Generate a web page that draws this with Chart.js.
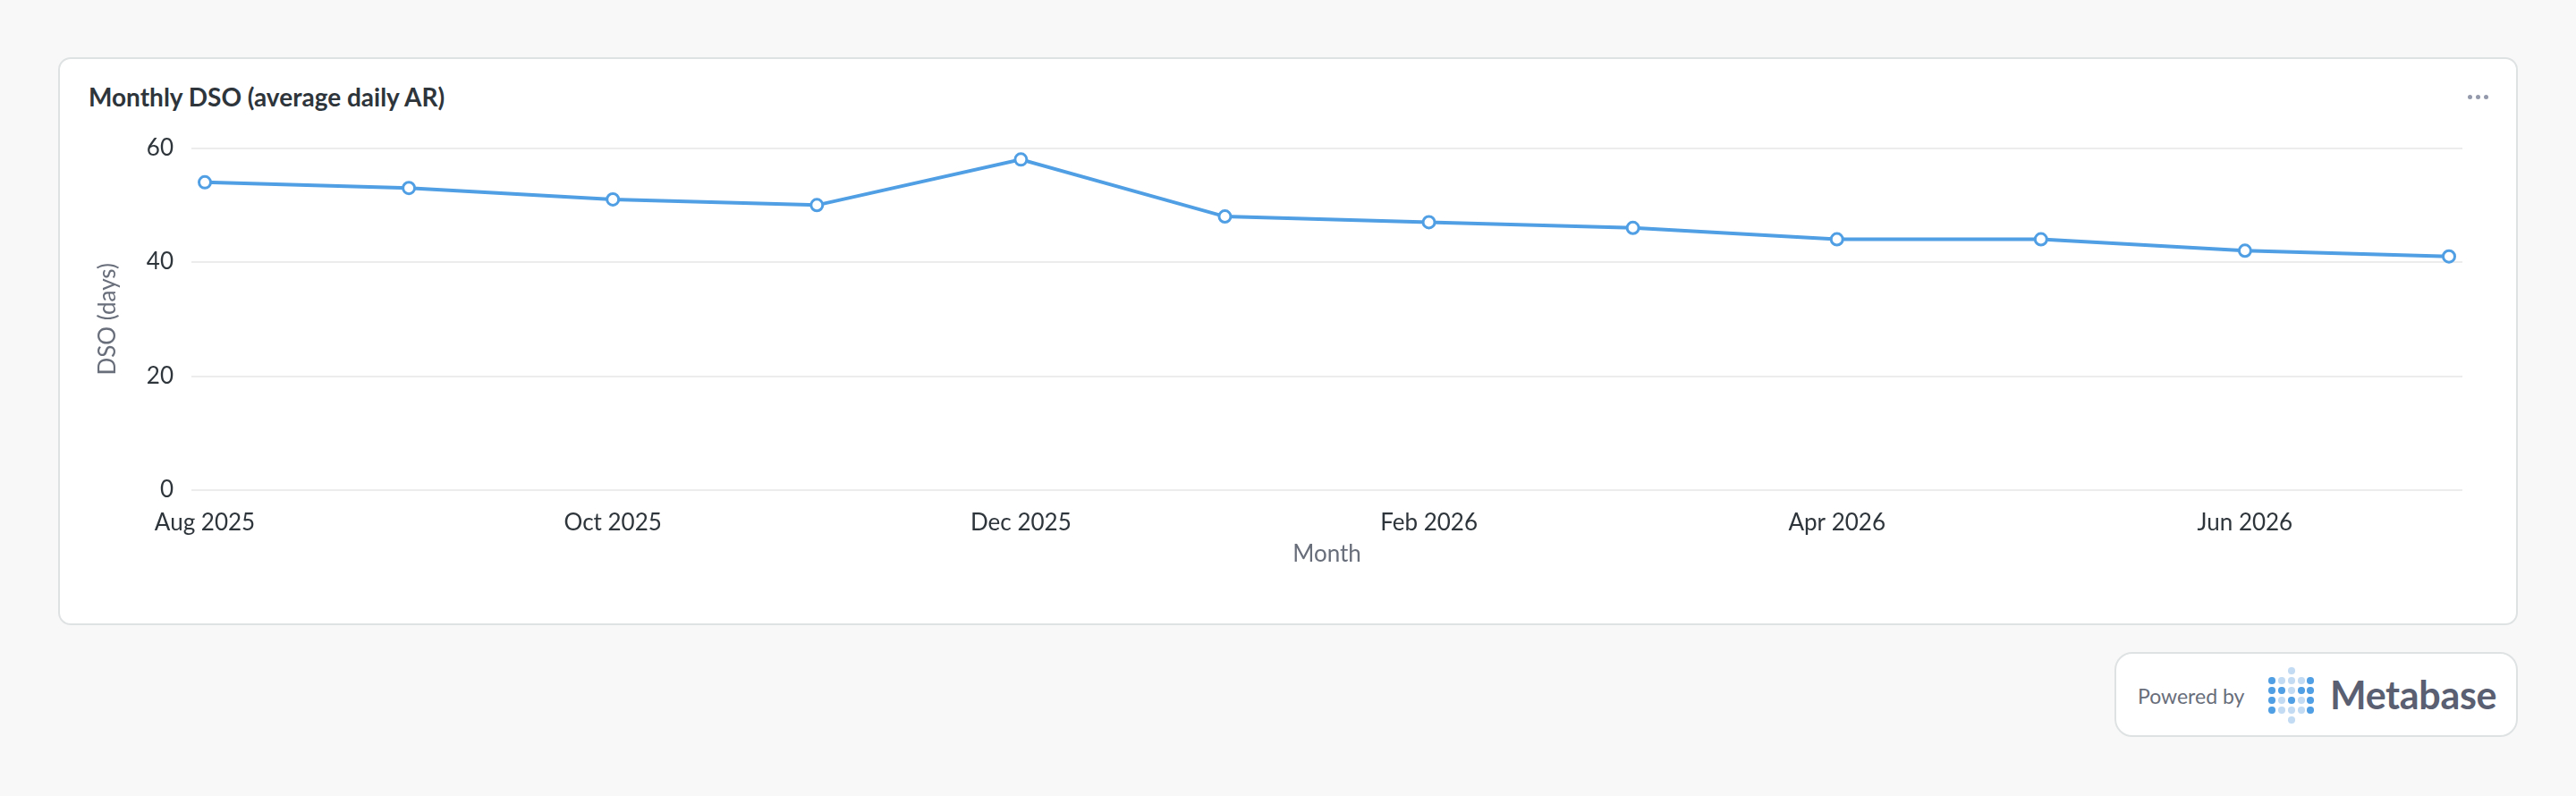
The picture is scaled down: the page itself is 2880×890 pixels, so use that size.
<!DOCTYPE html>
<html><head><meta charset="utf-8">
<script src="https://cdn.jsdelivr.net/npm/chart.js@4.4.1/dist/chart.umd.min.js"></script>
<style>
html,body{margin:0;padding:0;background:#f8f8f8;width:2880px;height:890px;overflow:hidden;font-family:Lato,"Noto Sans",sans-serif;}
.card{position:absolute;left:65px;top:64px;width:2750px;height:635px;background:#fff;border:2px solid #dfe2e3;border-radius:14px;box-sizing:border-box;}
.title{position:absolute;left:99px;top:92px;height:32px;line-height:32px;font-size:28px;font-weight:700;color:#2e353b;white-space:nowrap;}
.dots{position:absolute;left:2759px;top:106px;height:5px;}
.dots span{position:absolute;top:0;width:5px;height:5px;border-radius:50%;background:#949aab;}
#c{position:absolute;left:67px;top:130px;}
.badge{position:absolute;left:2364px;top:729px;width:451px;height:95px;background:#fff;border:2px solid #dfe2e3;border-radius:20px;box-sizing:border-box;}
.pw{position:absolute;left:2390px;top:763px;height:30px;line-height:30px;font-size:23px;color:#696e7b;white-space:nowrap;}
.mb{position:absolute;left:2605px;top:752px;height:50px;line-height:50px;font-size:43px;font-weight:700;color:#5a6072;white-space:nowrap;letter-spacing:-0.3px;}
.logo{position:absolute;left:0;top:0;}
.logo i{position:absolute;width:7.4px;height:7.4px;border-radius:50%;}
</style></head>
<body>
<div class="card"></div>
<div class="title">Monthly DSO (average daily AR)</div>
<div class="dots"><span style="left:0"></span><span style="left:9px"></span><span style="left:18px"></span></div>
<canvas id="c" width="2746" height="505" style="width:2746px;height:505px"></canvas>
<div class="badge"></div>
<div class="pw">Powered by</div>
<div class="logo" id="logo"></div>
<div class="mb">Metabase</div>
<script>
// ---- data ----
const months = ['Aug 2025','Sep 2025','Oct 2025','Nov 2025','Dec 2025','Jan 2026','Feb 2026','Mar 2026','Apr 2026','May 2026','Jun 2026','Jul 2026'];
const dso = [54, 53, 51, 50, 58, 48, 47, 46, 44, 44, 42, 41];
const xTickMonths = ['Aug 2025','Oct 2025','Dec 2025','Feb 2026','Apr 2026','Jun 2026'];
const yTicks = [0, 20, 40, 60];
const chartTitle = 'Monthly DSO (average daily AR)';
const xAxisName = 'Month';
const yAxisName = 'DSO (days)';

// ---- logo decoration ----
(function(){
  const logo = document.getElementById('logo');
  const cols = [2540, 2551, 2562, 2573, 2583];
  const rows = [761, 772, 783, 794];
  const pattern = ['10001','11011','10101','10001'];
  const dark = '#509ee3', light = '#c3dcf3';
  function dot(x, y, c){ const d = document.createElement('i'); d.style.left=(x-3.7)+'px'; d.style.top=(y-3.7)+'px'; d.style.background=c; logo.appendChild(d); }
  rows.forEach((y, r) => cols.forEach((x, ci) => dot(x, y, pattern[r][ci]==='1'?dark:light)));
  dot(cols[2], 750, light); dot(cols[2], 805, light);
})();

function draw(){
  const edge = 15/228;
  new Chart(document.getElementById('c'), {
    type: 'line',
    data: {
      datasets: [{
        label: yAxisName,
        data: dso.map((v, i) => ({x: i, y: v})),
        borderColor: '#509ee3',
        borderWidth: 4,
        pointBackgroundColor: '#ffffff',
        pointBorderColor: '#509ee3',
        pointBorderWidth: 3,
        pointRadius: 6.5,
        tension: 0,
        fill: false
      }]
    },
    options: {
      responsive: false,
      devicePixelRatio: 1,
      animation: false,
      layout: {padding: {left: 29, right: 60, top: 34, bottom: 0}},
      plugins: {legend: {display: false}, tooltip: {enabled: false}},
      scales: {
        x: {
          type: 'linear',
          min: -edge, max: months.length - 1 + edge,
          grid: {display: false, drawTicks: false},
          border: {display: false},
          afterBuildTicks: s => { s.ticks = xTickMonths.map(m => ({value: months.indexOf(m)})); },
          afterFit: s => { s.height = 87; },
          ticks: {
            autoSkip: false, maxRotation: 0, padding: 21,
            color: '#2e353b', font: {family: 'Lato', size: 26},
            callback: v => months[v]
          },
          title: {display: true, text: xAxisName, color: '#696e7b', font: {family: 'Lato', size: 26}, padding: {top: 0, bottom: 0}}
        },
        y: {
          min: 0, max: 60,
          grid: {color: '#ececec', lineWidth: 2, drawTicks: false},
          border: {display: false},
          afterBuildTicks: s => { s.ticks = yTicks.map(v => ({value: v})); },
          afterFit: s => { s.width = 118; },
          ticks: {padding: 20, color: '#2e353b', font: {family: 'Lato', size: 26}},
          title: {display: true, text: yAxisName, color: '#696e7b', font: {family: 'Lato', size: 26}, padding: {top: 9, bottom: 0}}
        }
      }
    }
  });
}
Promise.all([document.fonts.load('26px Lato'), document.fonts.load('bold 28px Lato')]).then(draw, draw);
</script>
</body></html>
